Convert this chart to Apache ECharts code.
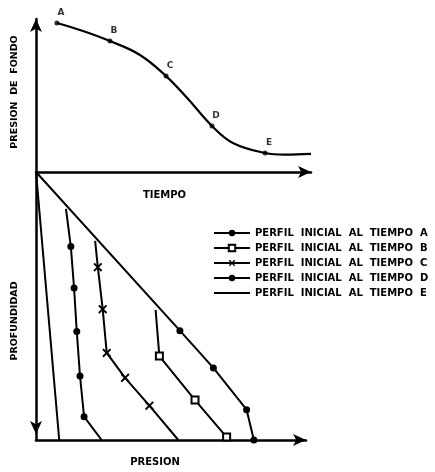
<!DOCTYPE html>
<html><head><meta charset="utf-8">
<script src="https://cdn.jsdelivr.net/npm/echarts@6/dist/echarts.min.js"></script>
<style>html,body{margin:0;padding:0;background:#fff}#c{width:435px;height:472px}</style>
</head><body><div id="c"></div>
<script>
// ---- top chart: bottom-hole pressure vs time ----
const curveTime     = [0.76, 1.71, 2.69, 3.78, 4.73, 5.49, 6.40, 7.16, 8.33, 9.05, 10.0];
const curvePressure = [9.74, 9.22, 8.56, 7.65, 6.27, 4.85, 3.01, 1.90, 1.24, 1.13, 1.18];
const pointNames    = ['A', 'B', 'C', 'D', 'E'];
const pointTime     = [0.76, 2.69, 4.73, 6.40, 8.33];
const pointPressure = [9.74, 8.56, 6.27, 3.01, 1.24];

// ---- bottom chart: pressure profiles vs depth (marker flag 1 = draw marker) ----
const profileNames = ['PERFIL  INICIAL  AL  TIEMPO  A', 'PERFIL  INICIAL  AL  TIEMPO  B',
                      'PERFIL  INICIAL  AL  TIEMPO  C', 'PERFIL  INICIAL  AL  TIEMPO  D',
                      'PERFIL  INICIAL  AL  TIEMPO  E'];
const profA_P = [0, 5.33, 6.57, 7.80, 8.07];
const profA_D = [0, 5.92, 7.31, 8.87, 10];
const profA_M = [0, 1, 1, 1, 1];
const profB_P = [4.43, 4.57, 5.89, 7.06, 7.09];
const profB_D = [5.15, 6.87, 8.51, 9.89, 10];
const profB_M = [0, 1, 1, 1, 0];
const profC_P = [2.19, 2.29, 2.47, 2.62, 3.30, 4.20, 5.27];
const profC_D = [2.57, 3.55, 5.12, 6.75, 7.68, 8.72, 10];
const profC_M = [0, 1, 1, 1, 1, 1, 0];
const profD_P = [1.11, 1.29, 1.41, 1.51, 1.63, 1.78, 2.43];
const profD_D = [1.38, 2.78, 4.33, 5.95, 7.61, 9.13, 10];
const profD_M = [0, 1, 1, 1, 1, 1, 0];
const profE_P = [0, 0.86];
const profE_D = [0, 10];
const profE_M = [0, 0];

const FONT = 'DejaVu Sans';
const xMark = 'path://M0,1.5L1.5,0L5,3.5L8.5,0L10,1.5L6.5,5L10,8.5L8.5,10L5,6.5L1.5,10L0,8.5L3.5,5Z';

function build(P, D, M) {
  return P.map((p, i) => M[i] ? { value: [p, D[i]] } : { value: [p, D[i]], symbol: 'none' });
}
const axisLineStyle = { color: '#000', width: 2.5 };
function prof(name, P, D, M, symbol, size, itemStyle) {
  return {
    name: name, type: 'line', xAxisIndex: 1, yAxisIndex: 1,
    data: build(P, D, M), symbol: symbol, symbolSize: size, showAllSymbol: true,
    lineStyle: { color: '#000', width: 2 }, itemStyle: itemStyle, silent: true, animation: false
  };
}

const chart = echarts.init(document.getElementById('c'));
chart.setOption({
  animation: false,
  backgroundColor: '#fff',
  grid: [
    { left: 36, top: 19, width: 275, height: 153 },
    { left: 36, top: 172, width: 270, height: 271 }
  ],
  xAxis: [
    { type: 'value', gridIndex: 0, min: 0, max: 10, name: 'TIEMPO', nameLocation: 'middle', nameGap: 18,
      nameTextStyle: { fontFamily: FONT, fontWeight: 'bold', fontSize: 10, color: '#000', padding: [0, 18, 0, 0] },
      axisLine: { onZero: false, lineStyle: axisLineStyle, symbol: ['none', 'arrow'], symbolSize: [9, 13] },
      axisTick: { show: false }, axisLabel: { show: false }, splitLine: { show: false } },
    { type: 'value', gridIndex: 1, min: 0, max: 10, position: 'bottom', name: 'PRESION', nameLocation: 'middle', nameGap: 17,
      nameTextStyle: { fontFamily: FONT, fontWeight: 'bold', fontSize: 10, color: '#000', padding: [0, 32, 0, 0] },
      axisLine: { onZero: false, lineStyle: axisLineStyle, symbol: ['none', 'arrow'], symbolSize: [9, 13] },
      axisTick: { show: false }, axisLabel: { show: false }, splitLine: { show: false } }
  ],
  yAxis: [
    { type: 'value', gridIndex: 0, min: 0, max: 10, name: 'PRESION  DE  FONDO', nameLocation: 'middle', nameGap: 16, nameRotate: 90,
      nameTextStyle: { fontFamily: FONT, fontWeight: 'bold', fontSize: 9.5, color: '#000', padding: [0, 0, 0, 7] },
      axisLine: { onZero: false, lineStyle: axisLineStyle, symbol: ['none', 'arrow'], symbolSize: [9, 13] },
      axisTick: { show: false }, axisLabel: { show: false }, splitLine: { show: false } },
    { type: 'value', gridIndex: 1, min: 0, max: 10, inverse: true, name: 'PROFUNDIDAD', nameLocation: 'middle', nameGap: 16, nameRotate: 90,
      nameTextStyle: { fontFamily: FONT, fontWeight: 'bold', fontSize: 9.5, color: '#000', padding: [0, 30, 0, 0] },
      axisLine: { onZero: false, lineStyle: axisLineStyle, symbol: ['arrow', 'none'], symbolSize: [9, 13], symbolOffset: [6, 0] },
      axisTick: { show: false }, axisLabel: { show: false }, splitLine: { show: false } }
  ],
  legend: {
    left: 208, top: 223, orient: 'vertical', itemWidth: 36, itemHeight: 8, itemGap: 5,
    data: profileNames,
    textStyle: { fontFamily: FONT, fontWeight: 'bold', fontSize: 10, color: '#000' },
    selectedMode: false
  },
  series: [
    { type: 'line', xAxisIndex: 0, yAxisIndex: 0, data: curveTime.map((t, i) => [t, curvePressure[i]]),
      smooth: 0.4, showSymbol: false, lineStyle: { color: '#000', width: 2.2 }, silent: true },
    { type: 'scatter', xAxisIndex: 0, yAxisIndex: 0, data: pointTime.map((t, i) => [t, pointPressure[i]]),
      symbolSize: 5, itemStyle: { color: '#000' }, silent: true,
      label: { show: true, position: 'top', distance: 3, offset: [4, 0], formatter: p => pointNames[p.dataIndex],
               fontFamily: FONT, fontWeight: 'bold', fontSize: 9, color: '#000' } },
    prof(profileNames[0], profA_P, profA_D, profA_M, 'circle', 7, { color: '#000' }),
    prof(profileNames[1], profB_P, profB_D, profB_M, 'rect', 7, { color: '#fff', borderColor: '#000', borderWidth: 2 }),
    prof(profileNames[2], profC_P, profC_D, profC_M, xMark, 9, { color: '#000' }),
    prof(profileNames[3], profD_P, profD_D, profD_M, 'circle', 7, { color: '#000' }),
    prof(profileNames[4], profE_P, profE_D, profE_M, 'none', 0, { color: 'rgba(0,0,0,0)' })
  ]
});
</script></body></html>
